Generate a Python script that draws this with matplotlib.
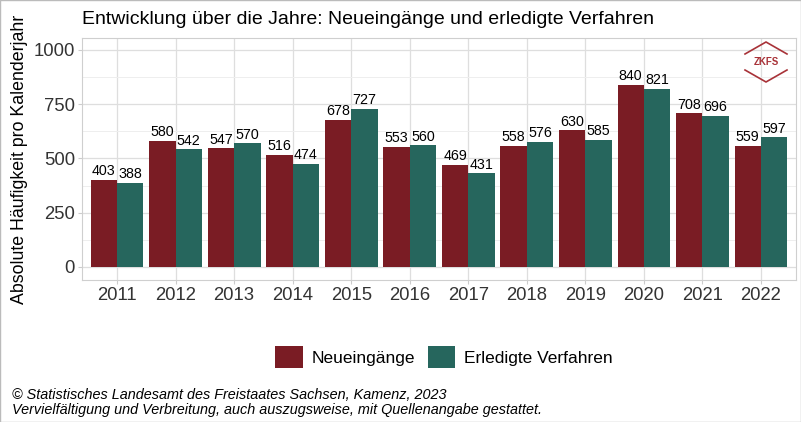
import numpy as np
import matplotlib.pyplot as plt
from matplotlib.patches import Rectangle

plt.rcParams['font.family'] = ['Liberation Sans', 'DejaVu Sans']

# Daten
jahre = ['2011', '2012', '2013', '2014', '2015', '2016', '2017', '2018', '2019', '2020', '2021', '2022']
neu = [403, 580, 547, 516, 678, 553, 469, 558, 630, 840, 708, 559]
erledigt = [388, 542, 570, 474, 727, 560, 431, 576, 585, 821, 696, 597]

rot = '#7A1C24'
gruen = '#26665D'

fig = plt.figure(figsize=(8.01, 4.22), dpi=100)
ax = fig.add_axes([82 / 801, 1 - 280 / 422, (796 - 82) / 801, (280 - 38) / 422])

x = np.arange(len(jahre))
w = 0.45
b1 = ax.bar(x - w / 2, neu, w, color=rot, label='Neueingänge')
b2 = ax.bar(x + w / 2, erledigt, w, color=gruen, label='Erledigte Verfahren')

for bars, vals in [(b1, neu), (b2, erledigt)]:
    for b, v in zip(bars, vals):
        ax.text(b.get_x() + b.get_width() / 2, v + 8, str(v), ha='center', va='bottom', fontsize=10.3)

ax.set_xlim(-0.6, len(jahre) - 0.4)
ax.set_ylim(-60, 1055)
ax.set_xticks(x)
ax.set_xticklabels(jahre, fontsize=13.3, color='#333333')
ax.set_yticks([0, 250, 500, 750, 1000])
ax.set_yticklabels(['0', '250', '500', '750', '1000'], fontsize=13.3, color='#333333')
ax.set_yticks([125, 375, 625, 875], minor=True)
ax.grid(True, which='major', color='#dedede', linewidth=0.9)
ax.grid(True, which='minor', axis='y', color='#eeeeee', linewidth=0.7)
ax.set_axisbelow(True)
ax.tick_params(axis='both', which='major', color='#cccccc', length=3, pad=2)
ax.tick_params(axis='y', which='minor', length=0)
for s in ax.spines.values():
    s.set_color('#cfcfcf')
ax.set_ylabel('Absolute Häufigkeit pro Kalenderjahr', fontsize=12.8, labelpad=4)

fig.text(82 / 801, 1 - 20 / 422, 'Entwicklung über die Jahre: Neueingänge und erledigte Verfahren',
         fontsize=14, va='center', ha='left')

fig.legend(handles=[b1, b2], loc='center', bbox_to_anchor=(444 / 801, 1 - 357 / 422), ncol=2,
           frameon=False, fontsize=12.5, handlelength=1.6, handleheight=1.6, columnspacing=0.7,
           handletextpad=0.5)

fig.text(12 / 801, 1 - 395 / 422, '© Statistisches Landesamt des Freistaates Sachsen, Kamenz, 2023',
         fontsize=10.4, style='italic', va='center')
fig.text(12 / 801, 1 - 410 / 422, 'Vervielfältigung und Verbreitung, auch auszugsweise, mit Quellenangabe gestattet.',
         fontsize=10.4, style='italic', va='center')

# Logo ZKFS
cx, cy = 766, 61
pts_top = [(cx - 21, cy - 7), (cx, cy - 19), (cx + 21, cy - 7)]
pts_bot = [(cx - 21, cy + 9), (cx, cy + 21), (cx + 21, cy + 9)]
for pts in (pts_top, pts_bot):
    fx = [p[0] / 801 for p in pts]
    fy = [1 - p[1] / 422 for p in pts]
    fig.add_artist(plt.Line2D(fx, fy, color='#a83238', linewidth=1.2))
fig.text(cx / 801, 1 - (cy + 1) / 422, 'ZKFS', color='#a83238', fontsize=7, fontweight='bold',
         ha='center', va='center')

fig.add_artist(Rectangle((0, 0), 1, 1, transform=fig.transFigure, fill=False, edgecolor='#bbbbbb', linewidth=1))

fig.savefig('out.png', dpi=100)
